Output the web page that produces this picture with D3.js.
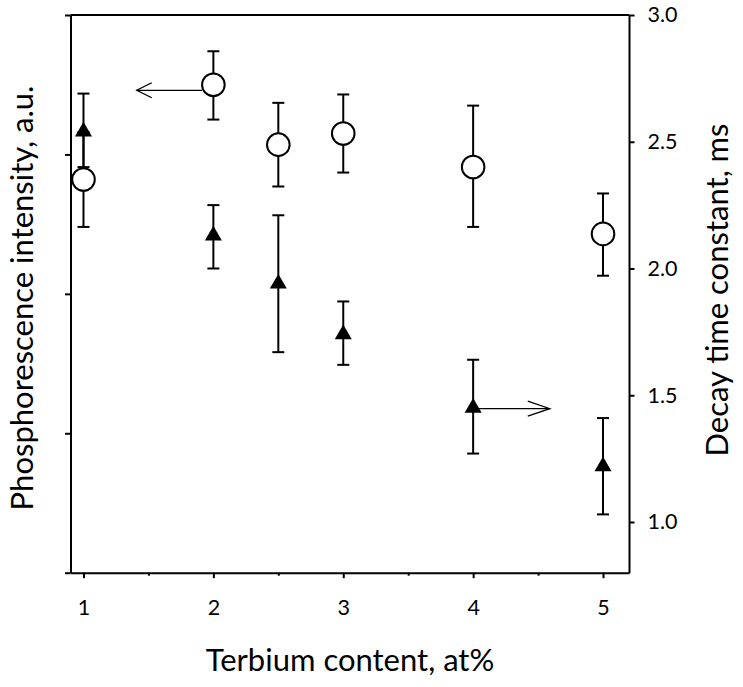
<!DOCTYPE html>
<html>
<head>
<meta charset="utf-8">
<script src="https://cdn.jsdelivr.net/npm/d3@7"></script>
<style>
  html, body { margin: 0; padding: 0; background: #fff; }
  svg { display: block; font-family: Lato, "Open Sans", sans-serif; }
</style>
</head>
<body>
<svg id="chart" width="743" height="687"></svg>
<script>
// ---- data ----
const terbium = [1, 2, 2.5, 3, 4, 5];
// Phosphorescence intensity (left axis, a.u.) - open circles
const intensity   = [2.82, 3.50, 3.07, 3.15, 2.91, 2.43];
const intensityLo = [2.48, 3.25, 2.77, 2.87, 2.48, 2.13];
const intensityHi = [3.16, 3.74, 3.37, 3.43, 3.35, 2.72];
// Decay time constant (right axis, ms) - filled triangles
const decay   = [2.54, 2.13, 1.94, 1.74, 1.45, 1.22];
const decayLo = [2.40, 2.00, 1.67, 1.62, 1.27, 1.03];
const decayHi = [2.69, 2.25, 2.21, 1.87, 1.64, 1.41];
const xTicks = [1, 2, 3, 4, 5];
const xMinorTicks = [1.5, 2.5, 3.5, 4.5];
const leftTicks = [0, 1, 2, 3, 4];
const rightTicks = [1.0, 1.5, 2.0, 2.5, 3.0];
// arrows indicating which axis each series belongs to
const arrowLeft  = { x0: 2, x1: 1.41, y: 3.46 };   // left axis units
const arrowRight = { x0: 4, x1: 4.59, y: 1.447 };  // right axis units

// ---- layout ----
const margin = { left: 70.5, top: 15, right: 743 - 629, bottom: 687 - 572.7 };
const W = 743 - margin.left - margin.right;
const H = 687 - margin.top - margin.bottom;

const svg = d3.select("#chart");
const g = svg.append("g").attr("transform", `translate(${margin.left},${margin.top})`);

const x = d3.scaleLinear().domain([0.9, 5.2]).range([0, W]);
const yL = d3.scaleLinear().domain([0, 4]).range([H, 0]);
const yR = d3.scaleLinear().domain([0.8, 3.0]).range([H, 0]);

function styleAxis(sel) {
  sel.selectAll("path.domain").attr("stroke", "#000").attr("stroke-width", 2);
  sel.selectAll(".tick line").attr("stroke", "#000").attr("stroke-width", 2);
  sel.selectAll(".tick text").attr("fill", "#000").style("font-size", "21.5px")
     .style("font-family", "Lato, 'Open Sans', sans-serif");
}

// top frame line
g.append("line").attr("x1", 0).attr("x2", W).attr("y1", 0).attr("y2", 0)
  .attr("stroke", "#000").attr("stroke-width", 2);

// left axis (no labels)
g.append("g").call(d3.axisLeft(yL).tickValues(leftTicks).tickFormat("").tickSize(5.5).tickSizeOuter(0))
  .call(styleAxis);

// right axis
g.append("g").attr("transform", `translate(${W},0)`)
  .call(d3.axisRight(yR).tickValues(rightTicks).tickFormat(d3.format(".1f")).tickSize(5.5).tickPadding(13).tickSizeOuter(0))
  .call(styleAxis);

// bottom axis
g.append("g").attr("transform", `translate(0,${H})`)
  .call(d3.axisBottom(x).tickValues(xTicks).tickFormat(d3.format("d")).tickSize(5.5).tickPadding(22).tickSizeOuter(0))
  .call(styleAxis);
g.append("g").attr("transform", `translate(0,${H})`)
  .call(d3.axisBottom(x).tickValues(xMinorTicks).tickFormat("").tickSize(3).tickSizeOuter(0))
  .call(styleAxis)
  .select("path.domain").remove();

// axis titles
svg.append("text").attr("x", 350).attr("y", 671).attr("text-anchor", "middle")
  .style("font-size", "31px").attr("fill", "#000").text("Terbium content, at%");
svg.append("text").attr("transform", "translate(33,298) rotate(-90)").attr("text-anchor", "middle")
  .style("font-size", "31px").attr("fill", "#000").text("Phosphorescence intensity, a.u.");
svg.append("text").attr("transform", "translate(728,290) rotate(-90)").attr("text-anchor", "middle")
  .style("font-size", "31px").attr("fill", "#000").text("Decay time constant, ms");

const cap = 6;
function errorBars(xs, lo, hi, yScale) {
  const eg = g.append("g").attr("stroke", "#000").attr("stroke-width", 2);
  xs.forEach((xv, i) => {
    const cx = x(xv), y1 = yScale(lo[i]), y2 = yScale(hi[i]);
    eg.append("line").attr("x1", cx).attr("x2", cx).attr("y1", y1).attr("y2", y2);
    eg.append("line").attr("x1", cx - cap).attr("x2", cx + cap).attr("y1", y1).attr("y2", y1);
    eg.append("line").attr("x1", cx - cap).attr("x2", cx + cap).attr("y1", y2).attr("y2", y2);
  });
}

errorBars(terbium, decayLo, decayHi, yR);
errorBars(terbium, intensityLo, intensityHi, yL);

// triangles
const tri = d3.symbol().type(d3.symbolTriangle).size(125);
g.append("g").selectAll("path").data(terbium).join("path")
  .attr("d", tri)
  .attr("transform", (d, i) => `translate(${x(d)},${yR(decay[i])})`)
  .attr("fill", "#000");

// circles
g.append("g").selectAll("circle").data(terbium).join("circle")
  .attr("cx", d => x(d)).attr("cy", (d, i) => yL(intensity[i]))
  .attr("r", 11.3).attr("fill", "#fff").attr("stroke", "#000").attr("stroke-width", 2);

// arrows
function arrow(x0px, x1px, ypx, headLen, headHalf) {
  const ag = g.append("g").attr("stroke", "#000").attr("stroke-width", 1.3).attr("fill", "none");
  const dir = Math.sign(x1px - x0px);
  ag.append("line").attr("x1", x0px).attr("x2", x1px).attr("y1", ypx).attr("y2", ypx);
  ag.append("polyline").attr("points",
    `${x1px - dir * headLen},${ypx - headHalf} ${x1px},${ypx} ${x1px - dir * headLen},${ypx + headHalf}`);
}
arrow(x(arrowLeft.x0) - 11.3, x(arrowLeft.x1), yL(arrowLeft.y), 15, 7.5);
arrow(x(arrowRight.x0), x(arrowRight.x1), yR(arrowRight.y), 22, 7.5);
</script>
</body>
</html>
